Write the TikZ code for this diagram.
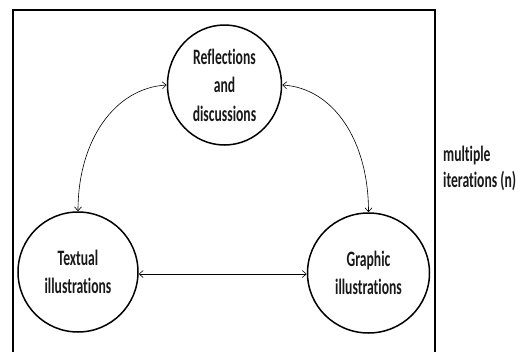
\documentclass[tikz,border=0pt]{standalone}
\usepackage{fontspec}
\newfontfamily\labfont[FakeStretch=0.62,Ligatures={NoCommon,NoRare}]{Carlito}
\usetikzlibrary{arrows.meta,shapes.geometric}
\tikzset{
  bubble/.style={draw=black, line width=1.5pt, ellipse, inner sep=0pt, align=center,
    font=\labfont\bfseries\fontsize{22}{28.5}\selectfont, text=black!90},
  link/.style={line width=0.6pt, {Straight Barb[length=4pt,width=7pt]}-{Straight Barb[length=4pt,width=7pt]}},
  frameline/.style={line width=1.8pt}
}
\begin{document}
\begin{tikzpicture}[x=1pt,y=-1pt]
\useasboundingbox (0,0) rectangle (522,351);
\draw[frameline] (13,353) -- (13,10) -- (435,10) -- (435,353);
\node[bubble, minimum width=114pt, minimum height=120pt] (top) at (224.5,85) {Reflections\\and\\discussions};
\node[bubble, minimum width=120pt, minimum height=120pt] (left) at (78,272) {Textual\\illustrations};
\node[bubble, minimum width=122pt, minimum height=120pt] (right) at (368.5,273) {Graphic\\illustrations};
\draw[link] (top.west) .. controls (115,88) and (78,140) .. (left.north);
\draw[link] (top.east) .. controls (333,88) and (368.5,140) .. (right.north);
\draw[link] (left.east |- 0,274) -- (right.west |- 0,274);
\node[anchor=base west, align=left, inner sep=0pt, text=black!90,
  font=\labfont\bfseries\fontsize{22}{26}\selectfont] (iter) at (443,187) {multiple\\iterations (n)};
\end{tikzpicture}
\end{document}
